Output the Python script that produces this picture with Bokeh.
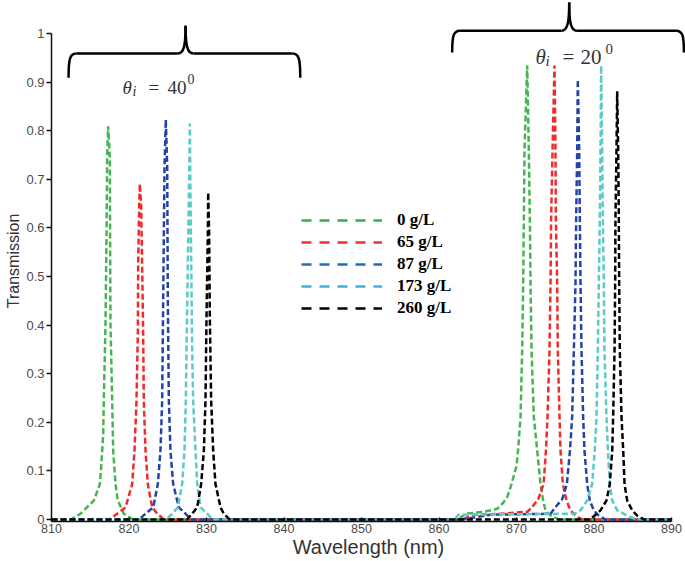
import math
from bokeh.plotting import figure
from bokeh.models import (Range1d, FixedTicker, Label, Legend, LegendItem,
                          ColumnDataSource)
from bokeh.embed import file_html
from bokeh.resources import INLINE

# ---------------- data ----------------
series_labels = ["0 g/L", "65 g/L", "87 g/L", "173 g/L", "260 g/L"]
line_colors = ["#46b450", "#f22a2a", "#2443a8", "#5ccac6", "#000000"]
legend_colors = ["#2fae55", "#f03030", "#1e6cc0", "#3ab2e4", "#000000"]

# (wavelength nm, transmission)
curve_0 = [(810.0, 0.0), (812.5, 0.0), (813.74, 0.012), (815.46, 0.039), (816.24, 0.073),
           (816.41, 0.108), (816.67, 0.176), (816.75, 0.245), (816.97, 0.403), (817.10, 0.588),
           (817.18, 0.745), (817.31, 0.809), (817.53, 0.745), (817.56, 0.588), (817.61, 0.403),
           (817.83, 0.245), (817.96, 0.142), (818.26, 0.073), (818.56, 0.039), (819.33, 0.012),
           (820.5, 0.0),
           (862.5, 0.0), (863.4, 0.012), (865.8, 0.016), (867.5, 0.022), (868.3, 0.035),
           (868.8, 0.046), (869.3, 0.07), (870.0, 0.11), (870.2, 0.142), (870.52, 0.211),
           (870.73, 0.348), (870.86, 0.485), (870.95, 0.622), (871.03, 0.759), (871.38, 0.934),
           (871.59, 0.759), (871.72, 0.622), (871.81, 0.485), (871.94, 0.348), (872.24, 0.211),
           (872.67, 0.142), (873.10, 0.073), (873.44, 0.039), (873.74, 0.019), (874.39, 0.008),
           (875.5, 0.0), (890.0, 0.0)]
curve_65 = [(810.0, 0.0), (817.5, 0.0), (818.47, 0.012), (819.55, 0.025), (820.41, 0.073),
            (820.71, 0.142), (820.97, 0.245), (821.14, 0.382), (821.18, 0.519), (821.31, 0.643),
            (821.40, 0.691), (821.57, 0.643), (821.70, 0.519), (821.83, 0.382), (821.91, 0.245),
            (822.13, 0.142), (822.43, 0.073), (822.99, 0.025), (823.64, 0.012), (824.5, 0.0),
            (863.0, 0.0), (864.5, 0.01), (868.0, 0.012), (871.4, 0.016), (872.0, 0.025),
            (872.8, 0.042), (873.5, 0.073), (873.8, 0.142), (874.0, 0.211), (874.26, 0.348),
            (874.39, 0.485), (874.47, 0.622), (874.65, 0.759), (874.90, 0.934), (875.03, 0.759),
            (875.07, 0.622), (875.25, 0.485), (875.33, 0.348), (875.55, 0.211), (875.68, 0.142),
            (875.98, 0.073), (876.45, 0.039), (876.97, 0.019), (877.61, 0.008), (878.5, 0.0),
            (890.0, 0.0)]
curve_87 = [(810.0, 0.0), (821.3, 0.0), (822.13, 0.012), (823.12, 0.025), (823.72, 0.073),
            (824.06, 0.142), (824.28, 0.245), (824.41, 0.451), (824.58, 0.725), (824.75, 0.823),
            (824.93, 0.725), (825.01, 0.451), (825.14, 0.245), (825.35, 0.142), (825.70, 0.073),
            (826.43, 0.025), (827.29, 0.012), (828.0, 0.0),
            (863.0, 0.0), (866.6, 0.01), (874.4, 0.012), (875.0, 0.025), (875.9, 0.042),
            (876.5, 0.073), (876.9, 0.142), (877.18, 0.211), (877.40, 0.348), (877.61, 0.485),
            (877.70, 0.622), (877.83, 0.759), (877.91, 0.905), (878.09, 0.759), (878.17, 0.622),
            (878.26, 0.485), (878.39, 0.348), (878.60, 0.211), (878.77, 0.142), (879.12, 0.073),
            (879.46, 0.039), (879.97, 0.019), (880.62, 0.008), (881.5, 0.0), (890.0, 0.0)]
curve_173 = [(810.0, 0.0), (824.8, 0.0), (825.57, 0.012), (826.30, 0.025), (826.86, 0.073),
             (827.16, 0.142), (827.33, 0.245), (827.42, 0.348), (827.72, 0.657), (827.85, 0.815),
             (827.94, 0.657), (828.15, 0.348), (828.28, 0.245), (828.58, 0.142), (828.80, 0.073),
             (829.23, 0.025), (830.09, 0.012), (830.8, 0.0),
             (862.0, 0.0), (862.5, 0.01), (877.5, 0.012), (878.26, 0.019), (879.12, 0.039),
             (879.76, 0.073), (880.10, 0.142), (880.32, 0.211), (880.49, 0.348), (880.62, 0.485),
             (880.75, 0.622), (880.84, 0.759), (880.92, 0.934), (881.06, 0.759), (881.14, 0.622),
             (881.27, 0.485), (881.35, 0.348), (881.61, 0.211), (881.79, 0.142), (882.04, 0.073),
             (882.35, 0.039), (882.99, 0.019), (884.28, 0.008), (885.5, 0.0), (890.0, 0.0)]
curve_260 = [(810.0, 0.0), (827.5, 0.0), (828.15, 0.012), (828.80, 0.025), (829.31, 0.073),
             (829.66, 0.142), (829.87, 0.245), (830.00, 0.416), (830.17, 0.588), (830.22, 0.673),
             (830.34, 0.588), (830.43, 0.416), (830.60, 0.245), (830.86, 0.142), (831.16, 0.073),
             (831.81, 0.025), (832.23, 0.012), (833.0, 0.0),
             (879.5, 0.0), (880.84, 0.019), (881.61, 0.039), (882.04, 0.073), (882.35, 0.142),
             (882.47, 0.211), (882.65, 0.348), (882.73, 0.485), (882.77, 0.622), (882.90, 0.759),
             (882.99, 0.881), (883.12, 0.759), (883.20, 0.622), (883.25, 0.485), (883.33, 0.348),
             (883.55, 0.211), (883.77, 0.142), (883.94, 0.073), (884.28, 0.039), (884.93, 0.019),
             (885.57, 0.008), (886.5, 0.0), (890.0, 0.0)]
curves = [curve_0, curve_65, curve_87, curve_173, curve_260]

x_ticks = [810, 820, 830, 840, 850, 860, 870, 880, 890]
x_tick_labels = ["810", "820", "830", "840", "850", "860", "870", "880", "890"]
y_ticks = [0, 0.1, 0.2, 0.3, 0.4, 0.5, 0.6, 0.7, 0.8, 0.9, 1.0]
y_tick_labels = ["0", "0.1", "0.2", "0.3", "0.4", "0.5", "0.6", "0.7", "0.8", "0.9", "1"]

# group annotations: (start, end, centre, line level, end level, tip level)
brace_40 = (812.2, 842.1, 827.3, 0.959, 0.909, 1.016)
brace_20 = (861.7, 891.6, 876.8, 1.006, 0.961, 1.064)

X_END = 891.806
Y_START, Y_END = -0.004, 1.068

# ---------------- figure ----------------
p = figure(width=685, height=561, output_backend="svg", toolbar_location=None,
           x_range=Range1d(810, X_END), y_range=Range1d(Y_START, Y_END),
           min_border_left=51, min_border_right=0, min_border_top=0, min_border_bottom=40)
p.outline_line_color = None
p.xgrid.visible = False
p.ygrid.visible = False
p.background_fill_color = "white"
p.border_fill_color = "white"

for ax in (p.xaxis[0], p.yaxis[0]):
    ax.axis_line_color = "#111111"
    ax.axis_line_width = 1.5
    ax.major_tick_line_color = "#111111"
    ax.major_tick_line_width = 1.5
    ax.minor_tick_line_color = None
    ax.major_label_text_font = "Liberation Sans"
    ax.major_label_text_color = "#4a4a4a"
    ax.axis_label_text_font = "Liberation Sans"
    ax.axis_label_text_font_style = "normal"
    ax.axis_label_text_color = "#333333"

p.xaxis.ticker = FixedTicker(ticks=x_ticks)
p.xaxis.major_label_overrides = dict(zip(x_ticks, x_tick_labels))
p.xaxis.major_tick_in = 4
p.xaxis.major_tick_out = 0
p.xaxis.major_label_standoff = 2
p.xaxis.major_label_text_font_size = "12.5px"
p.xaxis.bounds = (810, 890)
p.xaxis.axis_label = "Wavelength (nm)"
p.xaxis.axis_label_text_font_size = "20px"
p.xaxis.axis_label_standoff = 0

p.yaxis.ticker = FixedTicker(ticks=y_ticks)
p.yaxis.major_label_overrides = dict(zip(y_ticks, y_tick_labels))
p.yaxis.major_tick_in = 0
p.yaxis.major_tick_out = 5
p.yaxis.major_label_standoff = 2
p.yaxis.major_label_text_font_size = "13px"
p.yaxis.bounds = (Y_START, 1.0)
p.yaxis.axis_label = "Transmission"
p.yaxis.axis_label_text_font_size = "16px"
p.yaxis.axis_label_standoff = 1

for curve, col in zip(curves, line_colors):
    xs = [c[0] for c in curve]
    ys = [c[1] for c in curve]
    p.line(xs, ys, line_color=col, line_width=2.5, line_dash="6 3")

# legend (drawn with legend colours; the helper lines hold no drawable points)
nan = float("nan")
items = []
for lab, col in zip(series_labels, legend_colors):
    r = p.line(x=[nan, nan], y=[nan, nan], line_color=col, line_width=2.5, line_dash="10 8")
    items.append(LegendItem(label=lab, renderers=[r]))
legend = Legend(items=items, location=(250, 202), orientation="vertical",
                glyph_width=81, glyph_height=22, label_height=22, spacing=0,
                padding=0, margin=0, label_standoff=15,
                background_fill_alpha=0, border_line_color=None,
                label_text_font="Liberation Serif", label_text_font_style="bold",
                label_text_font_size="17px", label_text_color="black")
p.add_layout(legend)

# braces
def brace_segments(b, dx=1.0):
    xs, xe, xc, yl, ye, yt = b
    segs = []
    segs.append((xs, ye, xs + dx, yl, xs, ye + 0.75 * (yl - ye), xs + 0.15 * dx, yl))
    segs.append((xs + dx, yl, xc - dx, yl, xs + dx, yl, xc - dx, yl))
    segs.append((xc - dx, yl, xc, yt, xc - 0.2 * dx, yl, xc, yl + 0.3 * (yt - yl)))
    segs.append((xc + dx, yl, xc, yt, xc + 0.2 * dx, yl, xc, yl + 0.3 * (yt - yl)))
    segs.append((xc + dx, yl, xe - dx, yl, xc + dx, yl, xe - dx, yl))
    segs.append((xe, ye, xe - dx, yl, xe, ye + 0.75 * (yl - ye), xe - 0.15 * dx, yl))
    return segs

segs = brace_segments(brace_40) + brace_segments(brace_20)
bsrc = ColumnDataSource(dict(
    x0=[s[0] for s in segs], y0=[s[1] for s in segs],
    x1=[s[2] for s in segs], y1=[s[3] for s in segs],
    cx0=[s[4] for s in segs], cy0=[s[5] for s in segs],
    cx1=[s[6] for s in segs], cy1=[s[7] for s in segs]))
p.bezier(x0="x0", y0="y0", x1="x1", y1="y1", cx0="cx0", cy0="cy0", cx1="cx1", cy1="cy1",
         source=bsrc, line_color="black", line_width=2.5)

# theta labels
def theta_label(x, y, angle_txt, size, sub_size, eq_off, num_off, sup_off, sup_rise):
    parts = [
        ("θ", 0, 0, size, "italic"),
        ("i", 10, -4, sub_size, "italic"),
        ("=", eq_off, 0, size, "normal"),
        (angle_txt, num_off, 0, size, "normal"),
        ("0", sup_off, sup_rise, sub_size, "normal"),
    ]
    for txt, xo, yo, fs, st in parts:
        p.add_layout(Label(x=x, y=y, text=txt, x_offset=xo, y_offset=yo,
                           text_font="Liberation Serif", text_font_style=st,
                           text_font_size=fs, text_color="#333333",
                           text_baseline="alphabetic", text_align="left"))

theta_label(819.16, 0.889, "40", "19px", "14px", 26, 45, 65, 8)
theta_label(872.45, 0.951, "20", "21px", "15px", 27, 45, 70, 8)

open("out.html", "w").write(file_html(p, INLINE))
